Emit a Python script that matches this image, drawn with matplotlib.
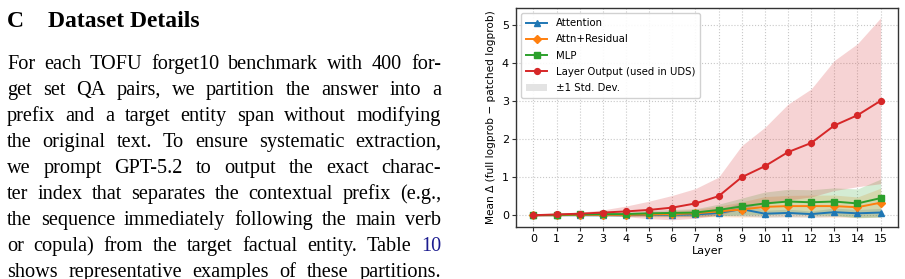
import matplotlib
matplotlib.use("Agg")
import matplotlib.pyplot as plt
from matplotlib.patches import Patch
from matplotlib.lines import Line2D
import numpy as np

# ---- chart data ----
layers = list(range(16))
attn_mean = [0.0, 0.0, 0.0, 0.0, 0.0, 0.01, 0.01, 0.02, 0.06, 0.16, 0.04, 0.06, 0.03, 0.08, 0.05, 0.07]
attn_std = [0.01, 0.01, 0.01, 0.02, 0.02, 0.03, 0.04, 0.05, 0.07, 0.18, 0.09, 0.1, 0.08, 0.11, 0.1, 0.11]
attnres_mean = [0.0, 0.0, 0.01, 0.01, 0.01, 0.02, 0.03, 0.05, 0.1, 0.15, 0.22, 0.24, 0.24, 0.24, 0.21, 0.33]
attnres_std = [0.01, 0.01, 0.02, 0.03, 0.04, 0.06, 0.08, 0.1, 0.14, 0.2, 0.27, 0.28, 0.29, 0.29, 0.27, 0.38]
mlp_mean = [0.0, 0.01, 0.02, 0.03, 0.03, 0.05, 0.06, 0.07, 0.14, 0.23, 0.31, 0.36, 0.34, 0.36, 0.31, 0.45]
mlp_std = [0.01, 0.02, 0.03, 0.04, 0.05, 0.07, 0.09, 0.1, 0.15, 0.22, 0.3, 0.32, 0.33, 0.36, 0.38, 0.5]
layer_mean = [0.0, 0.02, 0.04, 0.07, 0.1, 0.14, 0.2, 0.31, 0.5, 1.0, 1.29, 1.66, 1.9, 2.36, 2.63, 3.01]
layer_std = [0.03, 0.03, 0.04, 0.07, 0.14, 0.23, 0.32, 0.39, 0.5, 0.83, 1.02, 1.26, 1.42, 1.71, 1.88, 2.18]

series = [
    ("Attention", attn_mean, attn_std, "#1f77b4", "^"),
    ("Attn+Residual", attnres_mean, attnres_std, "#ff7f0e", "D"),
    ("MLP", mlp_mean, mlp_std, "#2ca02c", "s"),
    ("Layer Output (used in UDS)", layer_mean, layer_std, "#d62728", "o"),
]

# ---- page text ----
heading_num = "C"
heading = "Dataset Details"
body_lines = [
    "For each TOFU forget10 benchmark with 400 for-",
    "get set QA pairs, we partition the answer into a",
    "prefix and a target entity span without modifying",
    "the original text. To ensure systematic extraction,",
    "we prompt GPT-5.2 to output the exact charac-",
    "ter index that separates the contextual prefix (e.g.,",
    "the sequence immediately following the main verb",
    "or copula) from the target factual entity. Table 10",
    "shows representative examples of these partitions.",
]
link_words = {(7, "10")}

W, H = 905, 279
fig = plt.figure(figsize=(W / 100, H / 100), dpi=100)
renderer = fig.canvas.get_renderer()

serif = "Liberation Serif"
fig.text(7 / W, 1 - 27 / H, heading_num, fontsize=17, fontweight="bold",
         family=serif, va="baseline")
fig.text(48 / W, 1 - 27 / H, heading, fontsize=17, fontweight="bold",
         family=serif, va="baseline")

# justified paragraph: place each word so the line fills the column
x_left, x_right = 7, 441
base0, step = 69, 26.0
for i, line in enumerate(body_lines):
    y = 1 - (base0 + i * step) / H
    words = line.split(" ")
    txts = []
    for w in words:
        c = "#1c1c8f" if (i, w) in link_words else "black"
        txts.append(fig.text(0, y, w, fontsize=14.6, family=serif,
                             va="baseline", color=c))
    widths = [t.get_window_extent(renderer).width for t in txts]
    gap = (x_right - x_left - sum(widths)) / (len(words) - 1)
    x = x_left
    for t, wd in zip(txts, widths):
        t.set_x(x / W)
        x += wd + gap

# ---- chart ----
sans = "DejaVu Sans"
ax = fig.add_axes([516 / W, 1 - 227 / H, (898 - 516) / W, (227 - 8) / H])
for name, m, s, col, mk in series:
    m = np.array(m)
    s = np.array(s)
    ax.fill_between(layers, m - s, m + s, color=col, alpha=0.2, linewidth=0)
for name, m, s, col, mk in series:
    ax.plot(layers, m, color=col, marker=mk, markersize=4.2, linewidth=1.4,
            label=name)

ax.set_xticks(layers)
ax.set_ylim(-0.31, 5.45)
ax.grid(True, linestyle=":", color="#c8c8c8", linewidth=0.8)
ax.set_axisbelow(True)
for sp in ax.spines.values():
    sp.set_color("#333333")
    sp.set_linewidth(1.0)
ax.tick_params(labelsize=8, length=3, width=0.8, color="#333333", pad=2)
for lab in ax.get_xticklabels() + ax.get_yticklabels():
    lab.set_family(sans)
ax.set_xlabel("Layer", fontsize=8, family=sans, labelpad=1.5)
ax.set_ylabel("Mean \u0394 (full logprob \u2212 patched logprob)", fontsize=7.6,
              family=sans, labelpad=4)

handles = [Line2D([], [], color=col, marker=mk, markersize=4.2, linewidth=1.4)
           for _, _, _, col, mk in series]
handles.append(Patch(facecolor="#e3e3e3", edgecolor="none"))
labels = [s[0] for s in series] + ["\u00b11 Std. Dev."]
leg = ax.legend(handles, labels, loc="upper left",
                prop={"family": sans, "size": 7.3}, labelspacing=0.62,
                handlelength=2.1, borderpad=0.5,
                framealpha=0.9, edgecolor="#cccccc")

fig.savefig("out.png", dpi=100)
